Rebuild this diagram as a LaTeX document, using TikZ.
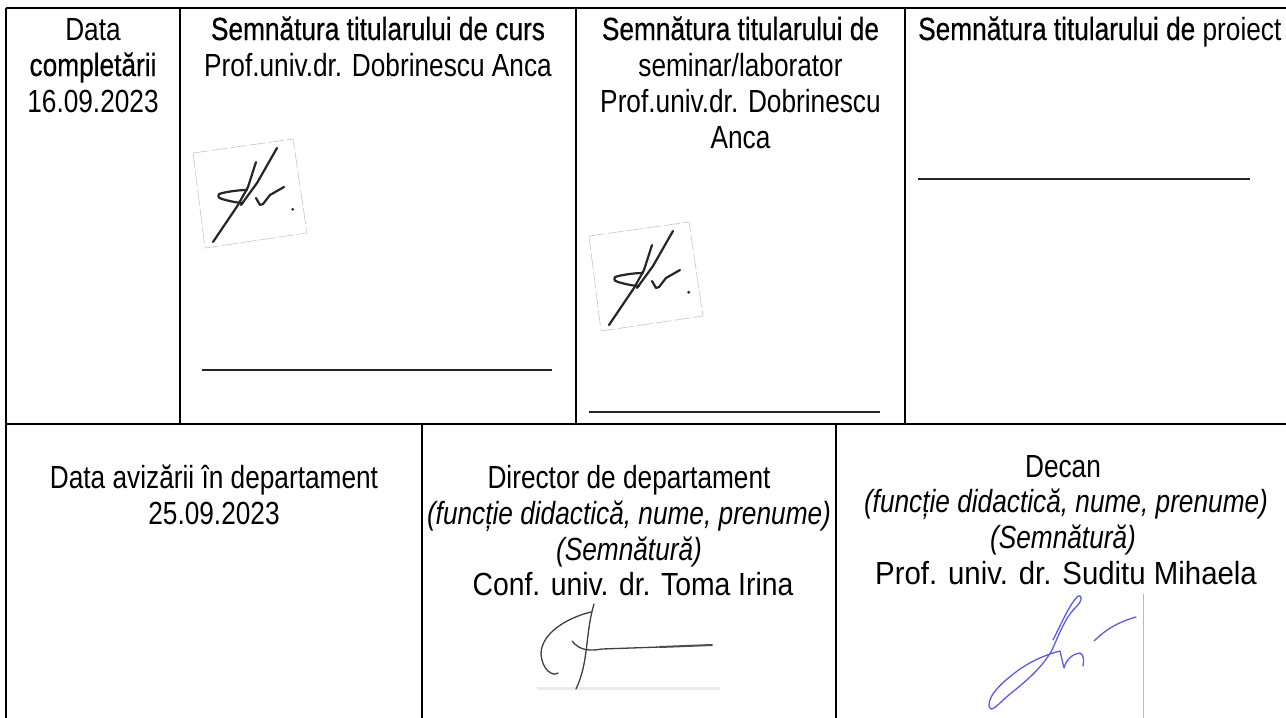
\documentclass[tikz,border=0pt]{standalone}
\usepackage{graphicx}
\usepackage{fontspec}
\setmainfont{Liberation Sans}[FakeStretch=0.82]
\newfontfamily\bfam{Liberation Sans}[FakeStretch=0.82,FakeBold=0.5]
\begin{document}
\begin{tikzpicture}[x=1pt,y=-1pt,
  txt/.style={anchor=base, inner sep=0pt, font=\fontsize{32}{37}\selectfont},
  bt/.style={txt, font=\fontsize{32}{37}\selectfont\bfam},
  it/.style={txt, font=\fontsize{32}{37}\selectfont\itshape},
  rule/.style={line width=2.4pt, black},
  blank/.style={line width=2pt, black!85},
  ink/.style={line width=2.2pt, black!85, line cap=round, line join=round},
  pen/.style={line width=1.3pt, black!75, line cap=round, line join=round},
  bluepen/.style={line width=1.3pt, blue!60!white!90!black, line cap=round, line join=round},
  sigbox/.style={line width=0.6pt, gray!45, dash pattern=on 16pt off 3pt},
  sigA/.pic={
    \draw[sigbox] (0,0) -- (100,-14) -- (114,80) -- (12,95) -- cycle;
    \draw[ink] (20,89) -- (45,52) -- (55,34) -- (63,9);
    \draw[ink] (48,52) -- (64,30) -- (84,-5);
    \draw[ink] (54,37) .. controls (45,37) and (32,39) .. (26,41) .. controls (24,44) and (27,46) .. (29,46) .. controls (36,48) and (45,50) .. (50,50);
    \draw[ink] (63,45) -- (67,52) -- (70,51) -- (77,42) -- (91,34);
    \fill[black!80] (99.7,56.3) circle (1.6);
  }]
\useasboundingbox (0,0) rectangle (1286,718);
\clip (0,0) rectangle (1286,718);
\fill[white] (0,0) rectangle (1286,718);

% table rules
\draw[rule] (6,8) -- (1300,8);
\draw[rule] (6,8) -- (6,730);
\draw[rule] (6,424) -- (1300,424);
\draw[rule] (180,8) -- (180,424);
\draw[rule] (576,8) -- (576,424);
\draw[rule] (905,8) -- (905,424);
\draw[rule] (422,424) -- (422,730);
\draw[rule] (836,424) -- (836,730);

% top row
\node[txt] (c1a) at (93,40) {Data};
\node[bt]  (c1b) at (93,76) {completării};
\node[txt] (c1c) at (93,112) {16.09.2023};

\node[bt]  (c2a) at (378,40) {Semnătura titularului de curs};
\node[txt] (c2b) at (378,76) {Prof.univ.dr. Dobrinescu Anca};

\node[bt]  (c3a) at (740.5,40) {Semnătura titularului de};
\node[txt] (c3b) at (740.5,76) {seminar/laborator};
\node[txt] (c3c) at (740.5,112) {Prof.univ.dr. Dobrinescu};
\node[txt] (c3d) at (740.5,148) {Anca};

\node[txt, anchor=base west] (c4a) at (918,40) {{\bfam Semnătura titularului de} proiect};

% blanks
\draw[blank] (202,370) -- (552,370);
\draw[blank] (589,412) -- (880,412);
\draw[blank] (918,179) -- (1250,179);

% signatures
\pic at (193,153) {sigA};
\pic at (589,236) {sigA};

% bottom row
\node[txt] (d1a) at (214,488) {Data avizării în departament};
\node[txt] (d1b) at (214,524) {25.09.2023};

\node[txt] (d2a) at (629,488) {Director de departament};
\node[it]  (d2b) at (629,524) {(funcție didactică, nume, prenume)};
\node[it]  (d2c) at (629,560) {(Semnătură)};
\node[txt] (d2d) at (633,595) {\scalebox{1.08}[1]{Conf. univ. dr. Toma Irina}};

\node[txt] (d3a) at (1063,477) {Decan};
\node[it]  (d3b) at (1066,512) {(funcție didactică, nume, prenume)};
\node[it]  (d3c) at (1063,548) {(Semnătură)};
\node[txt] (d3d) at (1066,584) {\scalebox{1.12}[1]{Prof. univ. dr. Suditu Mihaela}};

% director signature
\draw[line width=3pt, black!8] (537,688) -- (720,688);
\draw[pen] (591,612) .. controls (566,618) and (541,634) .. (541,654) .. controls (542,669) and (552,677) .. (558,673);
\draw[pen] (594,604) .. controls (585,634) and (589,662) .. (576,689);
\draw[pen] (572,641) .. controls (580,651) and (590,651) .. (602,649) -- (660,647);
\draw[pen, line width=2pt, black!70] (660,647) -- (712,645);

% dean signature
\draw[gray!55, line width=0.9pt] (1143,594) -- (1143,718);
\draw[bluepen]
  (1053,640) .. controls (1062,622) and (1070,604) .. (1077,597)
  .. controls (1082,593) and (1083,600) .. (1077,606)
  .. controls (1066,616) and (1060,632) .. (1052,650)
  .. controls (1042,668) and (1025,682) .. (1010,694)
  .. controls (998,704) and (991,714) .. (989,706)
  .. controls (988,694) and (1005,680) .. (1020,669)
  .. controls (1033,660) and (1048,654) .. (1060,651)
  -- (1064,668) .. controls (1066,660) and (1072,654) .. (1080,653)
  .. controls (1084,655) and (1084,660) .. (1083,666);
\draw[bluepen] (1094,641) .. controls (1105,630) and (1118,622) .. (1136,617);
\end{tikzpicture}
\end{document}
